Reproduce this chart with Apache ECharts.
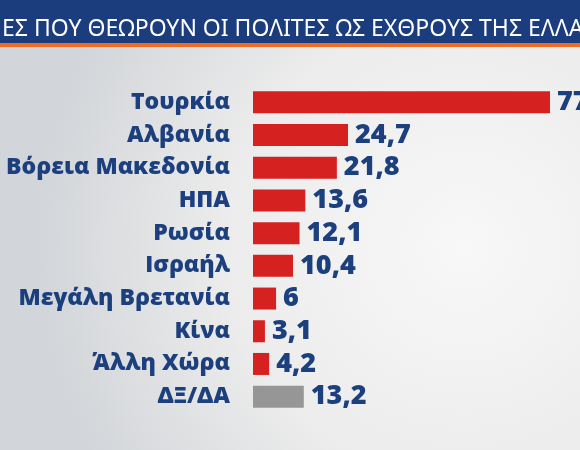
<!DOCTYPE html>
<html>
<head>
<meta charset="utf-8">
<script src="https://cdn.jsdelivr.net/npm/echarts@6/dist/echarts.min.js"></script>
<style>html,body{margin:0;padding:0;}#c{width:580px;height:450px;}</style>
</head>
<body>
<div id="c"></div>
<script>
const titleText = 'ΕΣ ΠΟΥ ΘΕΩΡΟΥΝ ΟΙ ΠΟΛΙΤΕΣ ΩΣ ΕΧΘΡΟΥΣ ΤΗΣ ΕΛΛΑ';
const categories = ['Τουρκία','Αλβανία','Βόρεια Μακεδονία','ΗΠΑ','Ρωσία','Ισραήλ','Μεγάλη Βρετανία','Κίνα','Άλλη Χώρα','ΔΞ/ΔΑ'];
const values = [77.2, 24.7, 21.8, 13.6, 12.1, 10.4, 6, 3.1, 4.2, 13.2];
const barColors = ['#d62121','#d62121','#d62121','#d62121','#d62121','#d62121','#d62121','#d62121','#d62121','#969696'];

const chart = echarts.init(document.getElementById('c'));
chart.setOption({
  animation: false,
  backgroundColor: {
    type: 'radial', x: 0.8, y: 0.55, r: 0.95,
    colorStops: [{offset: 0, color: '#f8f8f8'}, {offset: 0.55, color: '#ececec'}, {offset: 1, color: '#d2d5d9'}]
  },
  graphic: [
    {type: 'rect', left: 0, top: 0, shape: {width: 580, height: 43}, style: {fill: '#1b3d7e'}, z: 1},
    {type: 'rect', left: 0, top: 43, shape: {width: 580, height: 4}, style: {fill: '#f26b22'}, z: 1}
  ],
  title: {
    text: titleText, left: -3, top: 13,
    textStyle: {color: '#ffffff', fontFamily: 'Noto Sans', fontWeight: 'normal', fontSize: 23}, z: 5
  },
  grid: {left: 253, right: 0, top: 86, bottom: 37},
  xAxis: {type: 'value', min: 0, max: 85, show: false},
  yAxis: {
    type: 'category', data: categories, inverse: true,
    axisLine: {show: false}, axisTick: {show: false}, splitLine: {show: false},
    axisLabel: {margin: 23, color: '#1c3f7e', fontFamily: 'Open Sans', fontWeight: 800, fontSize: 23}
  },
  series: [{
    type: 'bar', barWidth: 22,
    data: values.map((v, i) => ({value: v, itemStyle: {color: barColors[i]}})),
    label: {
      show: true, position: 'right', distance: 7,
      color: '#1c3f7e', fontFamily: 'Open Sans', fontWeight: 800, fontSize: 27,
      formatter: p => String(p.value).replace('.', ',')
    }
  }]
});
</script>
</body>
</html>
